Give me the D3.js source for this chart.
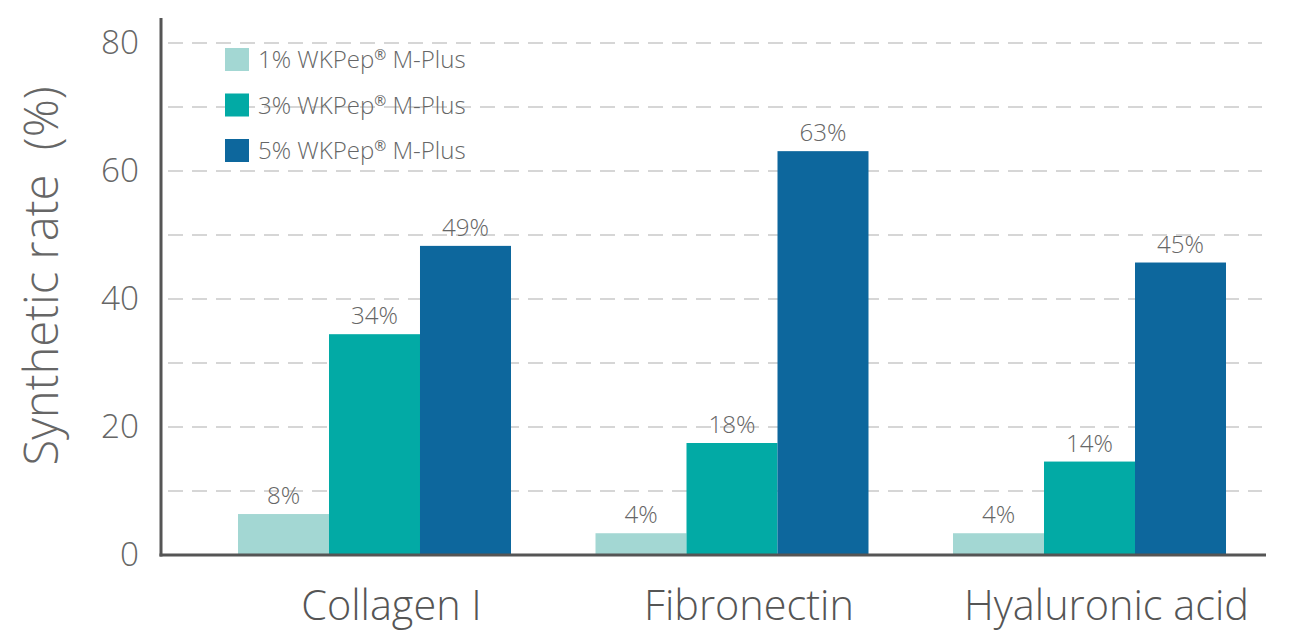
<!DOCTYPE html>
<html><head><meta charset="utf-8">
<script src="https://cdn.jsdelivr.net/npm/d3@7"></script>
<style>body{margin:0;background:#fff}svg{display:block}text{font-family:"Open Sans",sans-serif;font-weight:300}</style>
</head><body><svg id="c" width="1291" height="634"></svg>
<script>
const categories = ["Collagen I", "Fibronectin", "Hyaluronic acid"];
const seriesPrefix = ["1% WKPep", "3% WKPep", "5% WKPep"];
const seriesSuffix = " M-Plus";
const s1 = [6.4, 3.4, 3.4];
const s3 = [34.5, 17.5, 14.6];
const s5 = [48.3, 63.1, 45.7];
const labels1 = ["8%", "4%", "4%"];
const labels3 = ["34%", "18%", "14%"];
const labels5 = ["49%", "63%", "45%"];
const yTicks = [0, 20, 40, 60, 80];
const gridTicks = [10, 20, 30, 40, 50, 60, 70, 80];
const colors = ["#a3d7d3", "#02aaa5", "#0d679d"];

const series = [s1, s3, s5];
const seriesLabels = [labels1, labels3, labels5];
const svg = d3.select("#c");
const y = d3.scaleLinear().domain([0, 80]).range([555, 43]);
const x = d3.scaleBand().domain(categories).range([238, 1226]).paddingInner(0.2364).paddingOuter(0);
const xs = d3.scaleBand().domain([0,1,2]).range([0, x.bandwidth()]);

function fitSize(text, target, weight) {
  const t = svg.append("text").attr("font-size", 100).attr("font-weight", weight || 300).text(text);
  const w = t.node().getComputedTextLength();
  t.remove();
  return 100 * target / w;
}
const catSize = fitSize("Hyaluronic acid", 285);
const valSize = fitSize("63%", 47);
const tickSize = fitSize("80", 38);
const titleSize = fitSize("Synthetic rate  (%)", 367);

// grid
svg.append("g").selectAll("line").data(gridTicks).join("line")
  .attr("x1", 168).attr("x2", 1262)
  .attr("y1", d => y(d)).attr("y2", d => y(d))
  .attr("stroke", "#c9c9c9").attr("stroke-width", 1.5).attr("stroke-dasharray", "15,9");

// bars
const g = svg.append("g");
series.forEach((s, si) => {
  g.append("g").selectAll("rect").data(categories).join("rect")
    .attr("x", (c) => x(c) + xs(si))
    .attr("y", (c, i) => y(s[i]))
    .attr("width", xs.bandwidth())
    .attr("height", (c, i) => y(0) - y(s[i]))
    .attr("fill", colors[si]);
  g.append("g").selectAll("text").data(categories).join("text")
    .attr("x", (c) => x(c) + xs(si) + xs.bandwidth()/2)
    .attr("y", (c, i) => y(s[i]) - 10)
    .attr("text-anchor", "middle")
    .attr("font-size", valSize).attr("fill", "#666")
    .text((c, i) => seriesLabels[si][i]);
});

// axes lines
svg.append("line").attr("x1", 161).attr("x2", 161).attr("y1", 18).attr("y2", y(0) + 1.5)
  .attr("stroke", "#555").attr("stroke-width", 3);
svg.append("line").attr("x1", 159.5).attr("x2", 1266).attr("y1", y(0)).attr("y2", y(0))
  .attr("stroke", "#555").attr("stroke-width", 3);

// y tick labels
svg.append("g").selectAll("text").data(yTicks).join("text")
  .attr("x", 139).attr("y", d => y(d) + 11)
  .attr("text-anchor", "end").attr("font-size", tickSize).attr("fill", "#666")
  .text(d => d);

// y title
svg.append("text").attr("transform", "translate(58,276) rotate(-90)")
  .attr("text-anchor", "middle").attr("font-size", titleSize).attr("fill", "#666")
  .attr("xml:space", "preserve")
  .text("Synthetic rate  (%)");

// x category labels
svg.append("g").selectAll("text").data(categories).join("text")
  .attr("x", c => x(c) + x.bandwidth()/2 + 17).attr("y", 620)
  .attr("text-anchor", "middle").attr("font-size", catSize).attr("fill", "#555")
  .text(c => c);

// legend
const legSize = 24;
const leg = svg.append("g");
seriesPrefix.forEach((n, i) => {
  const cy = 60 + i * 45.5;
  leg.append("rect").attr("x", 225).attr("y", cy - 12).attr("width", 24).attr("height", 23).attr("fill", colors[i]);
  const t = leg.append("text").attr("x", 258).attr("y", cy + 8).attr("font-size", legSize).attr("fill", "#666");
  t.append("tspan").text(n);
  t.append("tspan").attr("font-size", legSize * 0.6).attr("dy", -8).attr("font-weight", 400).text("\u00AE");
  t.append("tspan").attr("dy", 8).text(seriesSuffix);
});
</script></body></html>
